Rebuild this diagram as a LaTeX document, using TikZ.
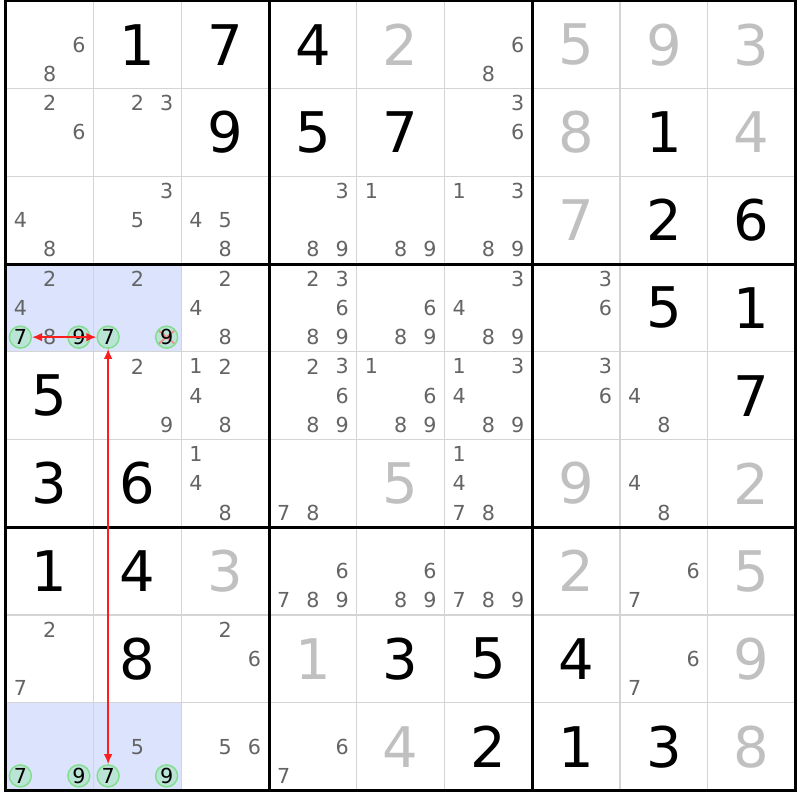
\documentclass[tikz,border=0pt]{standalone}
\usepackage{fontspec}
\setmainfont{DejaVu Sans}
\usetikzlibrary{arrows.meta}
\definecolor{candgray}{RGB}{100,100,100}
\definecolor{solvedgray}{RGB}{192,192,192}
\definecolor{gridgray}{RGB}{212,212,212}
\definecolor{hilite}{RGB}{219,228,252}
\definecolor{ringfill}{RGB}{186,228,214}
\definecolor{ringdraw}{RGB}{130,222,142}
\definecolor{linkred}{RGB}{250,30,30}
\definecolor{crossred}{RGB}{240,140,140}

\begin{document}
\begin{tikzpicture}[x=10.96875pt, y=-10.96875pt, >={Latex[length=7.5pt,width=6.5pt]},
  given/.style={font=\fontsize{42}{42}\selectfont},
  solved/.style={given, text=solvedgray},
  cand/.style={font=\fontsize{15.5}{16}\selectfont, text=candgray, inner sep=0pt},
  ring/.style={circle, draw=ringdraw, fill=ringfill, line width=1.1pt, minimum size=16.5pt,
    inner sep=0pt, font=\fontsize{15.5}{16}\selectfont},
  struck/.style={path picture={
    \draw[crossred, line width=1.3pt] ([shift={(-6pt,5pt)}]path picture bounding box.center) -- ([shift={(6pt,-5pt)}]path picture bounding box.center);
    \draw[crossred, line width=1.3pt] ([shift={(-6pt,-5pt)}]path picture bounding box.center) -- ([shift={(6pt,5pt)}]path picture bounding box.center);}}]
\useasboundingbox (-4.3125pt,0.5625pt) rectangle (595.6875pt,-599.4375pt);
%highlighted cells
\fill[hilite] (0,18) rectangle (12,24);
\fill[hilite] (0,48) rectangle (12,54);
%grid
\foreach \i in {1,...,8} {
  \draw[gridgray, line width=1.1pt] (6*\i,0) -- (6*\i,54);
  \draw[gridgray, line width=1.1pt] (0,6*\i) -- (54,6*\i);
}
\draw[line width=2.25pt] (18,0) -- (18,54);
\draw[line width=2.25pt] (36,0) -- (36,54);
\draw[line width=2.25pt] (0,18) -- (54,18);
\draw[line width=2.25pt] (0,36) -- (54,36);
\draw[line width=2.25pt] (0,0) rectangle (54,54);
%givens
\foreach \row/\col/\dg in {1/2/1, 1/3/7, 1/4/4, 2/3/9, 2/4/5, 2/5/7, 2/8/1, 3/8/2, 3/9/6,
    4/8/5, 4/9/1, 5/1/5, 5/9/7, 6/1/3, 6/2/6, 7/1/1, 7/2/4,
    8/2/8, 8/5/3, 8/6/5, 8/7/4, 9/6/2, 9/7/1, 9/8/3}
  \node[given] at (6*\col-3, 6*\row-3) {\dg};
%solved
\foreach \row/\col/\dg in {1/5/2, 1/7/5, 1/8/9, 1/9/3, 2/7/8, 2/9/4, 3/7/7,
    6/5/5, 6/7/9, 6/9/2, 7/3/3, 7/7/2, 7/9/5, 8/4/1, 8/9/9, 9/5/4, 9/9/8}
  \node[solved] at (6*\col-3, 6*\row-3) {\dg};
%candidates
\foreach \row/\col/\dgs in {1/1/{6,8}, 1/6/{6,8},
    2/1/{2,6}, 2/2/{2,3}, 2/6/{3,6},
    3/1/{4,8}, 3/2/{3,5}, 3/3/{4,5,8}, 3/4/{3,8,9}, 3/5/{1,8,9}, 3/6/{1,3,8,9},
    4/1/{2,4,8}, 4/2/{2}, 4/3/{2,4,8}, 4/4/{2,3,6,8,9}, 4/5/{6,8,9}, 4/6/{3,4,8,9}, 4/7/{3,6},
    5/2/{2,9}, 5/3/{1,2,4,8}, 5/4/{2,3,6,8,9}, 5/5/{1,6,8,9}, 5/6/{1,3,4,8,9}, 5/7/{3,6}, 5/8/{4,8},
    6/3/{1,4,8}, 6/4/{7,8}, 6/6/{1,4,7,8}, 6/8/{4,8},
    7/4/{6,7,8,9}, 7/5/{6,8,9}, 7/6/{7,8,9}, 7/8/{6,7},
    8/1/{2,7}, 8/3/{2,6}, 8/8/{6,7},
    9/2/{5}, 9/3/{5,6}, 9/4/{6,7}} {
  \foreach \dg in \dgs
    \node[cand] at ({6*\col-5+2*mod(\dg-1,3)}, {6*\row-5+2*int((\dg-1)/3)}) {\dg};
}
%chain
\node[ring] (r4c1n7) at (1,23) {7};
\node[ring] (r4c1n9) at (5,23) {9};
\node[ring] (r4c2n7) at (7,23) {7};
\node[ring, struck] (r4c2n9) at (11,23) {9};
\node[ring] (r9c1n7) at (1,53) {7};
\node[ring] (r9c1n9) at (5,53) {9};
\node[ring] (r9c2n7) at (7,53) {7};
\node[ring] (r9c2n9) at (11,53) {9};
\draw[<->, linkred, line width=1.1pt] (r4c1n7) -- (r4c2n7);
\draw[<->, linkred, line width=1.1pt] (r4c2n7) -- (r9c2n7);
\end{tikzpicture}
\end{document}
